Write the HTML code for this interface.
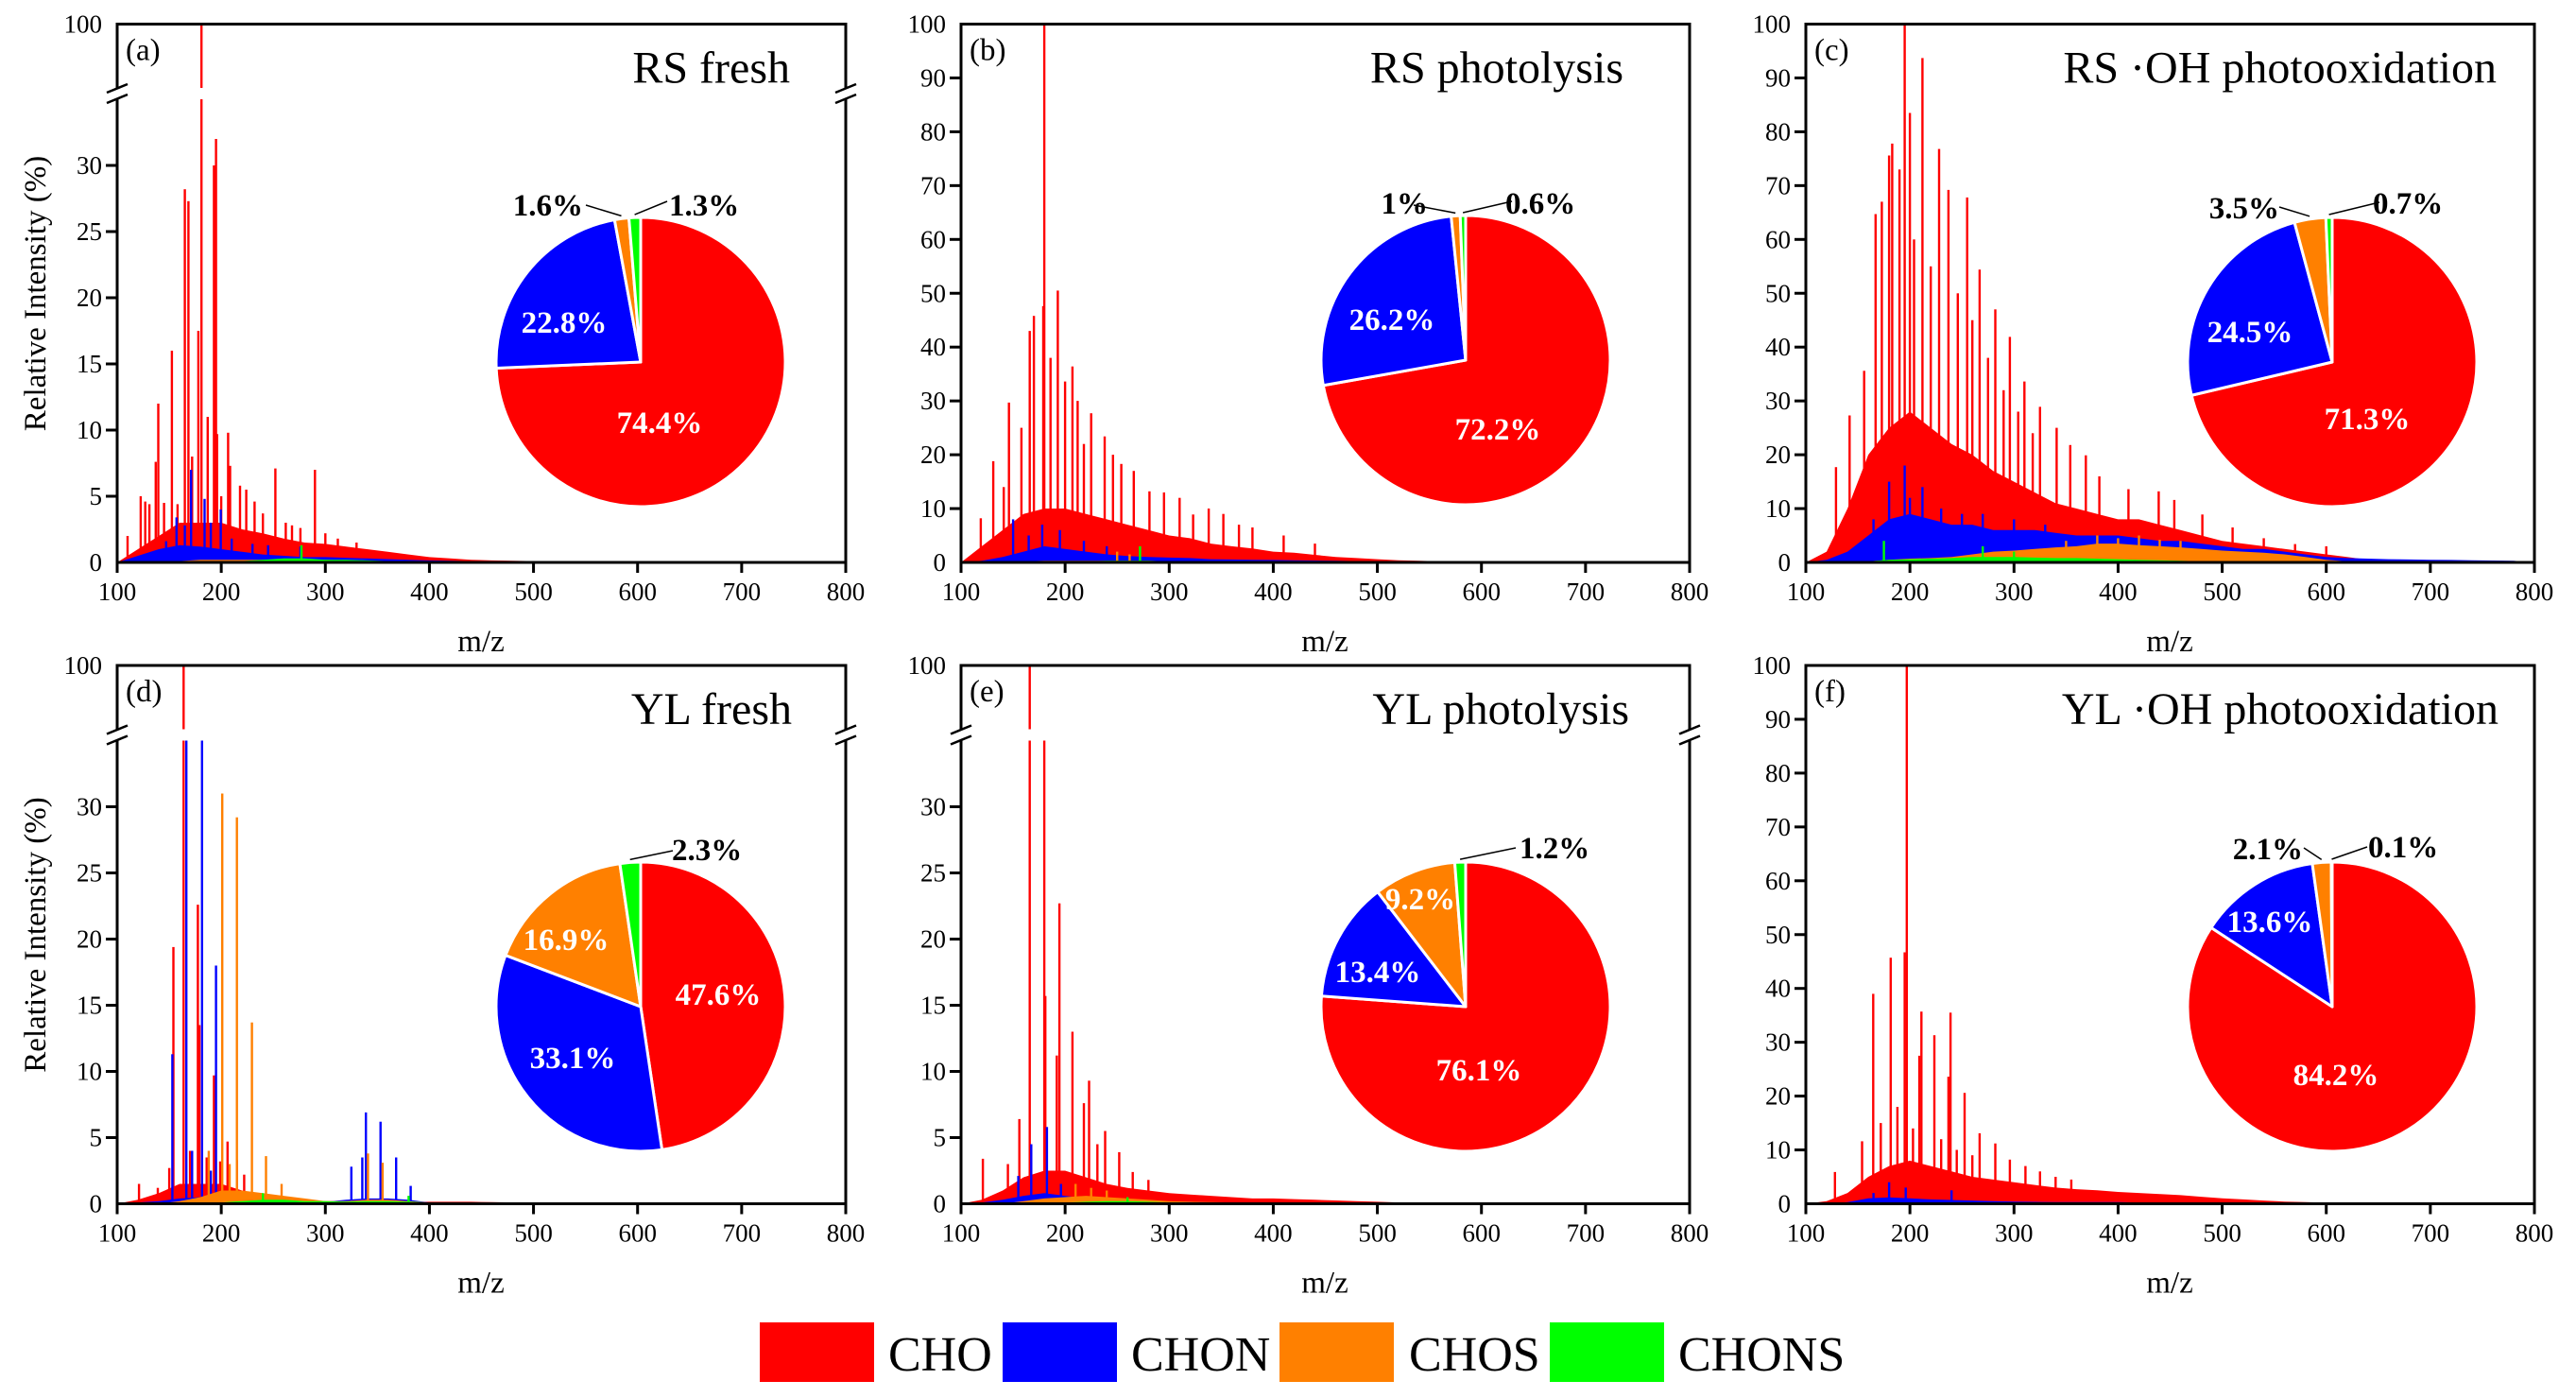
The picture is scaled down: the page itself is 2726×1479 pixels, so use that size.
<!DOCTYPE html>
<html><head><meta charset="utf-8"><style>
html,body{margin:0;padding:0;background:#fff;}
svg{display:block;}
svg text{font-family:"Liberation Serif","Times New Roman",serif;}
</style></head><body>
<svg id="fig" xmlns="http://www.w3.org/2000/svg" width="2726" height="1479" viewBox="0 0 2726 1479" font-family="Liberation Serif, Times New Roman, serif"></svg>
<script>
// ---------- DATA ----------
const classes = ["CHO","CHON","CHOS","CHONS"];
const classColors = ["#ff0000","#0000ff","#ff8000","#00ff00"];
const panelTitles = ["RS fresh","RS photolysis","RS \u00b7OH photooxidation","YL fresh","YL photolysis","YL \u00b7OH photooxidation"];
const panelLetters = ["(a)","(b)","(c)","(d)","(e)","(f)"];
const xTicks = [100,200,300,400,500,600,700,800];
const yTicksBroken = [0,5,10,15,20,25,30];
const yTicksLinear = [0,10,20,30,40,50,60,70,80,90,100];

const envMz = [100,120,140,160,180,200,220,240,260,280,300,320,340,360,380,400,420,440,460,480,500,520,540,560,580,600,620,640,660,680,700,720,740,760,780,800];

// (a) RS fresh
const envA_CHO  = [0,1,2,3,3,3,2.5,2.2,1.8,1.5,1.4,1.2,1.0,0.8,0.6,0.4,0.3,0.2,0.15,0.12,0.1,0.1,0.1,0.08,0.05,0,0,0,0,0,0,0,0,0,0,0];
const envA_CHON = [0,0.5,1,1.3,1.2,1,0.8,0.6,0.5,0.4,0.4,0.35,0.3,0.25,0.2,0.15,0.12,0.1,0.1,0.08,0.06,0.05,0.04,0.03,0,0,0,0,0,0,0,0,0,0,0,0];
const envA_CHOS = [0,0,0,0.1,0.2,0.2,0.2,0.2,0.2,0.2,0.2,0.15,0.1,0.1,0.05,0.05,0,0,0,0,0,0,0,0,0,0,0,0,0,0,0,0,0,0,0,0];
const envA_CHONS= [0,0,0,0,0.1,0.1,0.1,0.2,0.3,0.3,0.2,0.2,0.15,0.1,0.1,0.05,0,0,0,0,0,0,0,0,0,0,0,0,0,0,0,0,0,0,0,0];
const pkA_mz_CHO  = [181,195,193,165,168.5,178,152.6,139.5,187,206.6,196,137,290,252,208.5,122.6,127,218,110,131,145,158,172,200,224,232,240,262,268,276,300,312,330];
const pkA_v_CHO   = [100,32,30,28.2,27.3,17.5,16,12,11,9.8,9.7,7.6,7,7.1,7.3,5,4.6,5.8,2,4.4,4.5,4.4,8,5,5.5,4.6,3.7,3,2.8,2.6,2.2,1.8,1.5];
const pkA_mz_CHON = [171,184,199.5,157,147,165,190,210,230,245,276];
const pkA_v_CHON  = [7,4.8,4,3.4,1.6,2.8,3,1.8,1.4,1.3,1.2];
const pkA_mz_CHOS = [];
const pkA_v_CHOS  = [];
const pkA_mz_CHONS= [277];
const pkA_v_CHONS = [1.3];

// (b) RS photolysis
const envB_CHO  = [0,3,6,9,10,10,9,8,7,6,5,4.5,3.5,3,2.6,2,1.8,1.4,1,0.8,0.6,0.4,0.3,0.2,0.1,0.05,0,0,0,0,0,0,0,0,0,0];
const envB_CHON = [0,0.3,1,2,3,2.5,2,1.5,1.2,1,0.9,0.8,0.6,0.55,0.5,0.45,0.4,0.35,0.3,0.25,0.2,0.15,0.1,0.08,0.05,0,0,0,0,0,0,0,0,0,0,0];
const envB_CHOS = [0,0,0,0.2,0.3,0.3,0.3,0.3,0.3,0.3,0.2,0.2,0.2,0.1,0.1,0.1,0.05,0,0,0,0,0,0,0,0,0,0,0,0,0,0,0,0,0,0,0];
const envB_CHONS= [0,0,0,0,0.1,0.2,0.2,0.3,0.3,0.3,0.2,0.2,0.1,0.1,0.05,0,0,0,0,0,0,0,0,0,0,0,0,0,0,0,0,0,0,0,0,0];
const pkB_mz_CHO  = [180,193,179,166,170,207,146,200,225,238,254,281,310,131,141,323,119,212,186,158,218,246,266,295,338,352,367,380,410,440];
const pkB_v_CHO   = [100,50.5,47.6,43,45.8,36.4,29.7,33.6,27.7,23.4,18.3,13.2,12,18.8,14,8.9,8.2,30,38,25,22,20,17,13,10,9,7,6.5,5,3.5];
const pkB_mz_CHON = [150,165,178,195,218,240];
const pkB_v_CHON  = [8,5,7,6,4,3];
const pkB_mz_CHOS = [250,262];
const pkB_v_CHOS  = [2,1.5];
const pkB_mz_CHONS= [272];
const pkB_v_CHONS = [3];

// (c) RS OH photooxidation
const envC_CHO  = [0,2,10,20,25,28,25,22,20,17,15,13,11,10,9,8,8,7,6,5,4,3.5,3,2.5,2,1.5,1,0.5,0.4,0.35,0.3,0.3,0.3,0.25,0.2,0];
const envC_CHON = [0,0.5,2,5,8,9,8,7,7,6,6,6,5.5,5,5,5,4.5,4,4,3.5,3,2.5,2.5,2,1.5,1,0.8,0.7,0.6,0.55,0.5,0.45,0.4,0.35,0.3,0];
const envC_CHOS = [0,0,0,0.2,0.5,0.7,0.8,1,1.5,2,2.2,2.5,2.8,3,3.5,3.5,3.2,3,2.8,2.5,2.2,2,1.8,1.5,1,0.5,0.2,0,0,0,0,0,0,0,0,0];
const envC_CHONS= [0,0,0,0.2,0.5,0.6,0.7,0.8,1,1,1,0.9,0.8,0.8,0.7,0.6,0.5,0.4,0.3,0.2,0.1,0.05,0,0,0,0,0,0,0,0,0,0,0,0,0,0];
const pkC_mz_CHO  = [195,212,200,228,183,190,180,237,255,173,167,267,282,296,156,310,325,142,341,354,129,369,382,410,439,454,481,510,540,570,600,204,220,246,260,275,290,304,318];
const pkC_v_CHO   = [100,93.7,83.5,76.8,77.8,73,75.6,69.2,67.8,67,64.7,54.4,47,41.9,35.6,33.6,28.9,27.3,25,21.8,17.7,19.9,16,13.6,13.2,11.6,8.9,6.5,4.5,3.4,3,60,55,50,45,38,32,28,24];
const pkC_mz_CHON = [195,212,180,200,230,250,165,270,300,330];
const pkC_v_CHON  = [18,14,15,12,10,9,8,9,8,7];
const pkC_mz_CHOS = [380,420,460,400,440,350];
const pkC_v_CHOS  = [5,5,4,4.5,4.2,4];
const pkC_mz_CHONS= [175,270,300];
const pkC_v_CHONS = [4,3,2];

// (d) YL fresh
const envD_CHO  = [0,0.3,0.8,1.5,1.5,1.5,1,0.6,0.4,0.3,0.2,0.2,0.15,0.15,0.15,0.15,0.15,0.15,0.12,0.1,0.08,0,0,0,0,0,0,0,0,0,0,0,0,0,0,0];
const envD_CHON = [0,0.1,0.2,0.4,0.5,0.4,0.3,0.2,0.15,0.1,0.15,0.3,0.4,0.4,0.3,0.1,0.05,0,0,0,0,0,0,0,0,0,0,0,0,0,0,0,0,0,0,0];
const envD_CHOS = [0,0,0,0.2,0.5,1,1,0.8,0.6,0.4,0.2,0.2,0.3,0.3,0.2,0.1,0.05,0,0,0,0,0,0,0,0,0,0,0,0,0,0,0,0,0,0,0];
const envD_CHONS= [0,0,0,0,0,0.1,0.2,0.3,0.3,0.2,0.2,0.15,0.2,0.2,0.15,0.1,0.05,0,0,0,0,0,0,0,0,0,0,0,0,0,0,0,0,0,0,0];
const pkD_mz_CHO  = [163.8,177.5,179,154,193,206,215,121,139,150,170,186,199,222];
const pkD_v_CHO   = [100,22.6,13.5,19.4,9.7,4.7,3.3,1.5,1.2,2.7,4,3.5,3.2,2.2];
const pkD_mz_CHON = [166.5,181.5,195,153,339,353,368,325,335.5,382,172,190];
const pkD_v_CHON  = [40,40,18,11.3,6.9,6.2,3.5,2.8,3.5,1.35,4,2.5];
const pkD_mz_CHOS = [201,215,229.5,243,341,355,188,208,258];
const pkD_v_CHOS  = [31,29.2,13.7,3.6,3.8,3.1,4,3,1.5];
const pkD_mz_CHONS= [240,380];
const pkD_v_CHONS = [0.8,0.6];

// (e) YL photolysis
const envE_CHO  = [0,0.3,1,2,2.5,2.5,2,1.5,1.2,1,0.8,0.7,0.6,0.5,0.4,0.4,0.35,0.3,0.25,0.2,0.15,0.1,0.09,0.08,0.06,0.05,0,0,0,0,0,0,0,0,0,0];
const envE_CHON = [0,0.1,0.3,0.6,0.8,0.6,0.4,0.3,0.2,0.2,0.15,0.15,0.1,0.1,0.1,0.08,0.06,0.05,0.04,0,0,0,0,0,0,0,0,0,0,0,0,0,0,0,0,0];
const envE_CHOS = [0,0,0,0.2,0.4,0.5,0.6,0.5,0.4,0.3,0.2,0.15,0.12,0.1,0.1,0.1,0.05,0,0,0,0,0,0,0,0,0,0,0,0,0,0,0,0,0,0,0];
const envE_CHONS= [0,0,0,0,0.1,0.1,0.15,0.2,0.2,0.15,0.1,0.1,0.08,0.05,0,0,0,0,0,0,0,0,0,0,0,0,0,0,0,0,0,0,0,0,0,0];
const pkE_mz_CHO  = [166,180,194.5,207,181,223,218,192,238.5,156,121,252,145,231,265,280];
const pkE_v_CHO   = [100,60,22.7,13,15.7,9.3,7.6,11.2,5.5,6.4,3.4,3.9,3,4.5,2.4,1.8];
const pkE_mz_CHON = [182.5,167.5,155,196];
const pkE_v_CHON  = [5.8,4.5,2.1,1.5];
const pkE_mz_CHOS = [210,225,240];
const pkE_v_CHOS  = [1.5,1.2,1];
const pkE_mz_CHONS= [260];
const pkE_v_CHONS = [0.5];

// (f) YL OH photooxidation
const envF_CHO  = [0,0.5,2,5,7,8,7,6,5,4.5,4,3.5,3,2.7,2.5,2.2,2,1.8,1.6,1.3,1,0.8,0.6,0.4,0.3,0.2,0.15,0.1,0,0,0,0,0,0,0,0];
const envF_CHON = [0,0,0.3,1,1.2,1,0.8,0.7,0.6,0.5,0.4,0.35,0.3,0.3,0.3,0.3,0.25,0.2,0.2,0.2,0.2,0.15,0.1,0.1,0.1,0.1,0.05,0,0,0,0,0,0,0,0,0];
const envF_CHOS = [0,0,0,0.1,0.2,0.2,0.2,0.2,0.15,0.1,0.1,0.1,0.05,0,0,0,0,0,0,0,0,0,0,0,0,0,0,0,0,0,0,0,0,0,0,0];
const envF_CHONS= [0,0,0,0,0,0,0,0,0,0,0,0,0,0,0,0,0,0,0,0,0,0,0,0,0,0,0,0,0,0,0,0,0,0,0,0];
const pkF_mz_CHO  = [197,195,181.5,164.7,211,239,223.5,209,237,252.5,267,282,154,296,311,128,172,188,203,230,245,260,325,340,355];
const pkF_v_CHO   = [100,46.7,45.7,39,35.7,35.5,31.3,27.5,23.6,20.6,13.1,11.2,11.6,8.2,7,5.9,15,18,14,12,10,9,6,5,4.5];
const pkF_mz_CHON = [180,196,240,165];
const pkF_v_CHON  = [4,3,2.5,2];
const pkF_mz_CHOS = [];
const pkF_v_CHOS  = [];
const pkF_mz_CHONS= [];
const pkF_v_CHONS = [];

// Pie percentages (CHO, CHON, CHOS, CHONS)
const pieA = [74.4,22.8,1.6,1.3];
const pieB = [72.2,26.2,1,0.6];
const pieC = [71.3,24.5,3.5,0.7];
const pieD = [47.6,33.1,16.9,2.3];
const pieE = [76.1,13.4,9.2,1.2];
const pieF = [84.2,13.6,2.1,0.1];
const pieLabelsA = ["74.4%","22.8%","1.6%","1.3%"];
const pieLabelsB = ["72.2%","26.2%","1%","0.6%"];
const pieLabelsC = ["71.3%","24.5%","3.5%","0.7%"];
const pieLabelsD = ["47.6%","33.1%","16.9%","2.3%"];
const pieLabelsE = ["76.1%","13.4%","9.2%","1.2%"];
const pieLabelsF = ["84.2%","13.6%","2.1%","0.1%"];

// ---------- LAYOUT ----------
const NS = "http://www.w3.org/2000/svg";
const svg = document.getElementById("fig");
const SERIF = "Liberation Serif, Times New Roman, serif";
function el(tag, attrs, parent){
  const e = document.createElementNS(NS, tag);
  for (const k in attrs) e.setAttribute(k, attrs[k]);
  (parent||svg).appendChild(e);
  return e;
}
const colX = [124, 1017, 1911];
const rowTop = [25.5, 704];
const PW = 771, PH = 569.5;

const panels = [
  {col:0,row:0,broken:true, env:[envA_CHO,envA_CHON,envA_CHOS,envA_CHONS], mz:[pkA_mz_CHO,pkA_mz_CHON,pkA_mz_CHOS,pkA_mz_CHONS], v:[pkA_v_CHO,pkA_v_CHON,pkA_v_CHOS,pkA_v_CHONS], pie:pieA, pl:pieLabelsA,
   pc:[678,383], lab:[[698,458,0],[597,352,0],[580,228,1,620,217],[745,228,2,706,213]], titleX:836},
  {col:1,row:0,broken:false, env:[envB_CHO,envB_CHON,envB_CHOS,envB_CHONS], mz:[pkB_mz_CHO,pkB_mz_CHON,pkB_mz_CHOS,pkB_mz_CHONS], v:[pkB_v_CHO,pkB_v_CHON,pkB_v_CHOS,pkB_v_CHONS], pie:pieB, pl:pieLabelsB,
   pc:[1551,381], lab:[[1585,465,0],[1473,349,0],[1474,226,1,1496,217],[1630,226,2,1600,213]], titleX:1718},
  {col:2,row:0,broken:false, env:[envC_CHO,envC_CHON,envC_CHOS,envC_CHONS], mz:[pkC_mz_CHO,pkC_mz_CHON,pkC_mz_CHOS,pkC_mz_CHONS], v:[pkC_v_CHO,pkC_v_CHON,pkC_v_CHOS,pkC_v_CHONS], pie:pieC, pl:pieLabelsC,
   pc:[2468,383], lab:[[2505,454,0],[2381,362,0],[2375,231,1,2412,219],[2548,226,2,2518,214]], titleX:2642},
  {col:0,row:1,broken:true, env:[envD_CHO,envD_CHON,envD_CHOS,envD_CHONS], mz:[pkD_mz_CHO,pkD_mz_CHON,pkD_mz_CHOS,pkD_mz_CHONS], v:[pkD_v_CHO,pkD_v_CHON,pkD_v_CHOS,pkD_v_CHONS], pie:pieD, pl:pieLabelsD,
   pc:[678,1065], lab:[[760,1063,0],[606,1130,0],[599,1005,0],[748,910,2,712,900]], titleX:838},
  {col:1,row:1,broken:true, env:[envE_CHO,envE_CHON,envE_CHOS,envE_CHONS], mz:[pkE_mz_CHO,pkE_mz_CHON,pkE_mz_CHOS,pkE_mz_CHONS], v:[pkE_v_CHO,pkE_v_CHON,pkE_v_CHOS,pkE_v_CHONS], pie:pieE, pl:pieLabelsE,
   pc:[1551,1065], lab:[[1565,1143,0],[1458,1039,0],[1503,962,0],[1645,908,2,1604,897]], titleX:1724},
  {col:2,row:1,broken:false, env:[envF_CHO,envF_CHON,envF_CHOS,envF_CHONS], mz:[pkF_mz_CHO,pkF_mz_CHON,pkF_mz_CHOS,pkF_mz_CHONS], v:[pkF_v_CHO,pkF_v_CHON,pkF_v_CHOS,pkF_v_CHONS], pie:pieF, pl:pieLabelsF,
   pc:[2468,1065], lab:[[2472,1148,0],[2402,986,0],[2400,909,1,2438,897],[2543,907,2,2505,896]], titleX:2644}
];

panels.forEach((P, pi) => {
  const x0 = colX[P.col], top = rowTop[P.row], bottom = top + PH;
  const g = el("g", {});
  
  
  const xs = m => x0 + (m - 100) / 700 * PW;
  const lowScale = 14;
  const cut = 35;
  const lowTop = bottom - cut * lowScale;
  const brkY = lowTop - 6;
  const ys = v => {
    if (!P.broken) return bottom - v / 100 * PH;
    if (v <= cut) return bottom - v * lowScale;
    if (v < 85) return lowTop;
    return (brkY - 6) - (v - 85) / 15 * (brkY - 6 - top);
  };
  const cid = "clip" + pi;
  const cp = el("clipPath", {id: cid}, g);
  el("rect", {x: x0, y: top, width: PW, height: PH}, cp);
  const plot = el("g", {"clip-path": "url(#" + cid + ")"}, g);
  
  
  for (let c = 0; c < 4; c++) {
    const env = P.env[c];
    let d = "M" + xs(envMz[0]) + "," + bottom;
    envMz.forEach((m, i) => { d += " L" + xs(m).toFixed(1) + "," + ys(env[i]).toFixed(1); });
    d += " L" + xs(envMz[envMz.length - 1]) + "," + bottom + " Z";
    const a = el("path", {d: d, fill: classColors[c]}, plot);
    
    
    P.mz[c].forEach((m, i) => {
      const v = P.v[c][i];
      const yTop = ys(v);
      const r = el("rect", {x: (xs(m) - 1.2).toFixed(1), y: yTop.toFixed(1), width: 2.4, height: (bottom - yTop).toFixed(1), fill: classColors[c]}, plot);
      
      
    });
  }
  if (P.broken) {
    el("rect", {x: x0, y: brkY - 6, width: PW, height: 12, fill: "#fff"}, plot);
  }
  const fr = el("g", {stroke: "#000", "stroke-width": 3, fill: "none"}, g);
  
  
  el("line", {x1: x0 - 1.5, y1: top, x2: x0 + PW + 1.5, y2: top}, fr);
  el("line", {x1: x0 - 1.5, y1: bottom, x2: x0 + PW + 1.5, y2: bottom}, fr);
  if (P.broken) {
    [x0, x0 + PW].forEach(ax => {
      el("line", {x1: ax, y1: top, x2: ax, y2: brkY - 6}, fr);
      el("line", {x1: ax, y1: brkY + 6, x2: ax, y2: bottom}, fr);
      el("line", {x1: ax - 11, y1: brkY - 1, x2: ax + 11, y2: brkY - 10, "stroke-width": 2.5}, fr);
      el("line", {x1: ax - 11, y1: brkY + 10, x2: ax + 11, y2: brkY + 1, "stroke-width": 2.5}, fr);
    });
  } else {
    el("line", {x1: x0, y1: top, x2: x0, y2: bottom}, fr);
    el("line", {x1: x0 + PW, y1: top, x2: x0 + PW, y2: bottom}, fr);
  }
  const yt = P.broken ? yTicksBroken.concat([100]) : yTicksLinear;
  yt.forEach(v => {
    const y = ys(v);
    if (v > 0 && v < 100) el("line", {x1: x0 - 12, y1: y, x2: x0, y2: y, stroke: "#000", "stroke-width": 3}, g);
    const t = el("text", {x: x0 - 16, y: y + 9, "font-size": 27, "text-anchor": "end", "font-family": SERIF}, g);
    t.textContent = v;
    
    
  });
  xTicks.forEach(m => {
    const x = xs(m);
    el("line", {x1: x, y1: bottom, x2: x, y2: bottom + 11, stroke: "#000", "stroke-width": 3}, g);
    const t = el("text", {x: x, y: bottom + 40, "font-size": 27, "text-anchor": "middle", "font-family": SERIF}, g);
    t.textContent = m;
    
    
  });
  const xl = el("text", {x: x0 + 385, y: bottom + 94, "font-size": 33, "text-anchor": "middle", "font-family": SERIF}, g);
  xl.textContent = "m/z";
  
  
  if (P.col === 0) {
    const yl = el("text", {x: 0, y: 0, "font-size": 33, "text-anchor": "middle", "font-family": SERIF, transform: "translate(48," + (top + 285) + ") rotate(-90)"}, g);
    yl.textContent = "Relative Intensity (%)";
    
    
  }
  const lt = el("text", {x: x0 + 9, y: top + 38, "font-size": 33, "font-family": "Liberation Sans, Arial, sans-serif"}, g);
  lt.textContent = panelLetters[pi];
  
  
  const tt = el("text", {x: P.titleX, y: top + 62, "font-size": 48, "text-anchor": "end", "font-family": SERIF}, g);
  tt.textContent = panelTitles[pi];
  
  

  const [cx, cy] = P.pc, R = 153;
  const total = P.pie.reduce((s, v) => s + v, 0);
  let ang = 0;
  const pg = el("g", {}, g);
  
  
  const mids = [];
  P.pie.forEach((v, i) => {
    const a0 = ang, a1 = ang + v / total * 2 * Math.PI;
    ang = a1;
    mids.push((a0 + a1) / 2);
    const p0 = [cx + R * Math.sin(a0), cy - R * Math.cos(a0)];
    const p1 = [cx + R * Math.sin(a1), cy - R * Math.cos(a1)];
    const large = (a1 - a0) > Math.PI ? 1 : 0;
    const s = el("path", {d: `M${cx},${cy} L${p0[0].toFixed(2)},${p0[1].toFixed(2)} A${R},${R} 0 ${large} 1 ${p1[0].toFixed(2)},${p1[1].toFixed(2)} Z`,
      fill: classColors[i], stroke: "#fff", "stroke-width": 3, "stroke-linejoin": "round"}, pg);
    
    
  });
  P.lab.forEach((L, i) => {
    const out = L[2] > 0;
    const anchor = L[2] === 1 ? "end" : (L[2] === 2 ? "start" : "middle");
    const lx = L[2] === 0 ? L[0] : (L[2] === 1 ? L[0] + 37 : L[0] - 37);
    const t = el("text", {x: lx, y: L[1], "font-size": 33, "font-weight": "bold", "text-anchor": anchor, "font-family": SERIF, fill: out ? "#000" : "#fff"}, pg);
    t.textContent = P.pl[i];
    
    
    if (out) {
      const ex = cx + (R + 3) * Math.sin(mids[i]), ey = cy - (R + 3) * Math.cos(mids[i]);
      const ln = el("line", {x1: L[3], y1: L[4], x2: ex.toFixed(1), y2: ey.toFixed(1), stroke: "#000", "stroke-width": 1.5}, pg);
      
      
    }
  });
});

const legX = [804, 1061, 1354, 1640];
const legTX = [940, 1197, 1491, 1776];
const lg = el("g", {});


classes.forEach((c, i) => {
  const r = el("rect", {x: legX[i], y: 1399, width: 121, height: 63, fill: classColors[i]}, lg);
  
  
  const t = el("text", {x: legTX[i], y: 1450, "font-size": 52, "font-family": SERIF}, lg);
  t.textContent = c;
  
  
});
</script>
</body></html>
